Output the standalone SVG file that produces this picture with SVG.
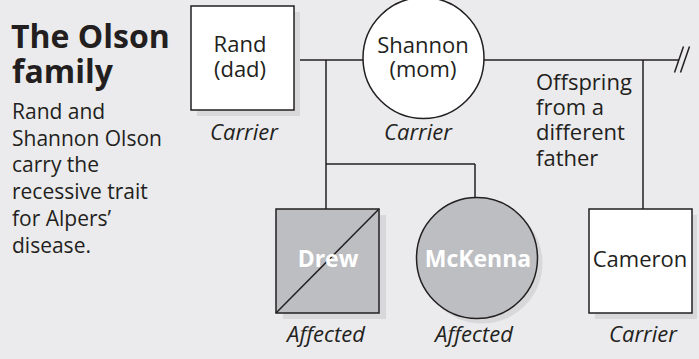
<svg xmlns="http://www.w3.org/2000/svg" width="699" height="359" viewBox="0 0 699 359">
  <style>
    .bg { fill: #ebebed; }
    .shadow { fill: #d8d8da; }
    .sym { stroke: #231f20; stroke-width: 1.5; }
    .open { fill: #ffffff; }
    .aff { fill: #bdbec2; }
    .line { stroke: #231f20; stroke-width: 1.5; fill: none; }
    text { font-family: "Open Sans", "Noto Sans", "DejaVu Sans", sans-serif; fill: #231f20; font-variant-ligatures: none; }
    .name { font-size: 22px; text-anchor: middle; }
    .aname { font-size: 23px; font-weight: bold; fill: #ffffff; text-anchor: middle; }
    .status { font-size: 22px; font-style: italic; text-anchor: middle; }
    .title { font-size: 32px; font-weight: bold; }
    .body { font-size: 21px; }
    .note { font-size: 22px; }
  </style>

  <rect class="bg" x="0" y="0" width="699" height="359"/>

  <!-- Heading and description -->
  <g id="legend">
    <text class="title" x="11" y="48">The Olson</text>
    <text class="title" x="12" y="83">family</text>
    <text class="body" x="12" y="119">Rand and</text>
    <text class="body" x="12" y="145.5">Shannon Olson</text>
    <text class="body" x="12" y="172">carry the</text>
    <text class="body" x="12" y="199">recessive trait</text>
    <text class="body" x="12" y="226">for Alpers’</text>
    <text class="body" x="12" y="252.5">disease.</text>
  </g>

  <!-- Connectors -->
  <g id="connectors">
    <line class="line" x1="294" y1="60" x2="363" y2="60"/>
    <line class="line" x1="484" y1="60" x2="679" y2="60"/>
    <line class="line" x1="326" y1="60" x2="326" y2="209"/>
    <line class="line" x1="326" y1="164" x2="475" y2="164"/>
    <line class="line" x1="475" y1="164" x2="475" y2="197.5"/>
    <line class="line" x1="643" y1="60" x2="643" y2="209"/>
    <!-- break marks -->
    <line class="line" x1="674.5" y1="72.5" x2="683.5" y2="46.5"/>
    <line class="line" x1="680.5" y1="72.5" x2="689.5" y2="46.5"/>
  </g>

  <!-- Rand (dad) -->
  <g id="rand">
    <rect class="shadow" x="197" y="12" width="103" height="104"/>
    <rect class="open sym" x="191" y="6" width="103" height="104"/>
    <text class="name" x="240" y="52">Rand</text>
    <text class="name" x="240" y="77">(dad)</text>
    <text class="status" x="244" y="140">Carrier</text>
  </g>

  <!-- Shannon (mom) -->
  <g id="shannon">
    <circle class="open sym" cx="423.5" cy="58" r="60.5"/>
    <text class="name" x="423" y="53">Shannon</text>
    <text class="name" x="423" y="77">(mom)</text>
    <text class="status" x="418" y="140">Carrier</text>
  </g>

  <!-- Note on half-sibling -->
  <g id="note">
    <text class="note" x="536" y="90">Offspring</text>
    <text class="note" x="536" y="115">from a</text>
    <text class="note" x="536" y="140">different</text>
    <text class="note" x="536" y="166">father</text>
  </g>

  <!-- Drew -->
  <g id="drew">
    <rect class="shadow" x="283" y="215" width="103" height="104"/>
    <rect class="aff sym" x="276" y="209" width="103" height="104"/>
    <line class="line" x1="276" y1="313" x2="379" y2="209"/>
    <text class="aname" x="328" y="267">Drew</text>
    <text class="status" x="326" y="342">Affected</text>
  </g>

  <!-- McKenna -->
  <g id="mckenna">
    <circle class="shadow" cx="482" cy="263" r="60.5"/>
    <circle class="aff sym" cx="477" cy="258" r="60.5"/>
    <text class="aname" x="478" y="267">McKenna</text>
    <text class="status" x="474" y="342">Affected</text>
  </g>

  <!-- Cameron -->
  <g id="cameron">
    <rect class="shadow" x="595" y="215" width="102" height="104"/>
    <rect class="open sym" x="589" y="209" width="103" height="104"/>
    <text class="name" x="640" y="267">Cameron</text>
    <text class="status" x="643" y="342">Carrier</text>
  </g>
</svg>
